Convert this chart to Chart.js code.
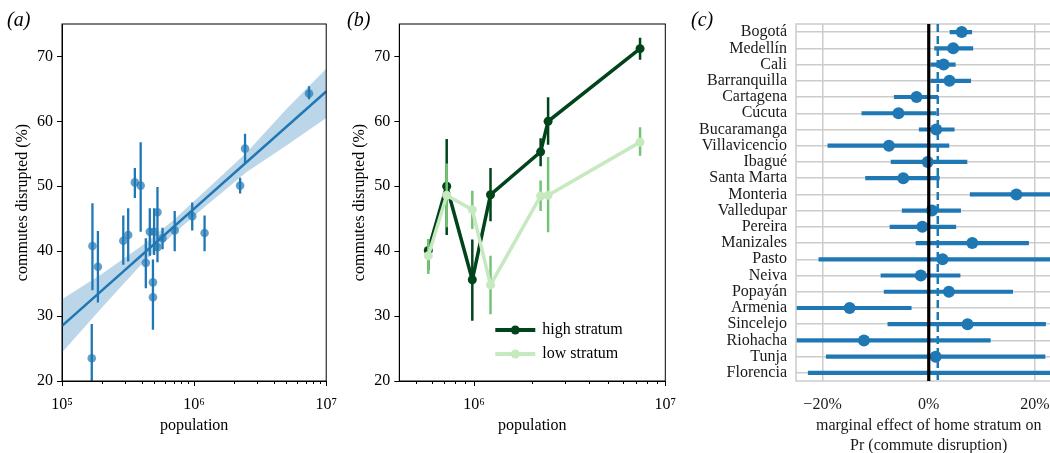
<!DOCTYPE html>
<html lang="en">
<head>
<meta charset="UTF-8">
<title>Commute disruption by city</title>
<script src="https://cdn.jsdelivr.net/npm/chart.js@4.4.1/dist/chart.umd.min.js"></script>
<style>
  html, body { margin: 0; padding: 0; background: #fff; overflow: hidden; }
  body { width: 1050px; height: 453px; position: relative; }
  .panel { position: absolute; top: 0; }
  .tag { position: absolute; top: 8px; font: italic 20px "Liberation Serif", serif; color: #000; }
</style>
</head>
<body>
<div class="panel" style="left:0"><canvas id="chartA" width="340" height="453"></canvas></div>
<div class="panel" style="left:340px"><canvas id="chartB" width="340" height="453"></canvas></div>
<div class="panel" style="left:680px"><canvas id="chartC" width="392" height="453"></canvas></div>
<div class="tag" style="left:7px">(a)</div>
<div class="tag" style="left:347px">(b)</div>
<div class="tag" style="left:691px">(c)</div>
<script>
// ---- panel (a): mean commute disruption per city vs population ----
const popA   = [1.68e5, 1.70e5, 1.87e5, 2.91e5, 3.17e5, 3.56e5, 3.94e5, 4.31e5, 4.62e5, 4.98e5, 4.88e5, 4.88e5, 5.28e5, 5.28e5, 5.77e5, 7.13e5, 9.68e5, 1.20e6, 2.23e6, 2.43e6, 7.41e6];
const meanA  = [23.5, 40.8, 37.6, 41.6, 42.5, 50.6, 50.1, 38.2, 43.0, 43.0, 35.2, 32.9, 46.0, 40.6, 42.0, 43.2, 45.4, 42.8, 50.1, 55.8, 64.3];
const lowA   = [18.0, 34.0, 32.1, 37.9, 38.4, 48.2, 43.0, 34.3, 39.3, 39.4, 31.7, 27.9, 38.3, 38.3, 40.3, 40.0, 43.2, 40.0, 48.9, 53.6, 63.4];
const highA  = [28.8, 47.4, 43.1, 45.5, 46.6, 52.8, 56.8, 42.0, 46.6, 46.6, 38.7, 36.5, 49.9, 43.5, 43.6, 46.2, 47.5, 45.5, 51.3, 58.1, 65.4];

// regression fit and its confidence band
const fitX   = [1e5, 1e7];
const fitY   = [28.5, 64.6];
const bandX  = [1e5, 2e5, 4e5, 7e5, 1.2e6, 2.5e6, 5e6, 1e7];
const bandLo = [24.4, 31.3, 38.0, 42.7, 46.8, 52.2, 56.3, 60.5];
const bandHi = [32.6, 36.5, 40.8, 44.8, 49.2, 55.2, 61.9, 68.1];

// ---- panel (b): seven largest cities by stratum ----
const popB     = [5.77e5, 7.2e5, 9.8e5, 1.22e6, 2.23e6, 2.44e6, 7.38e6];
const highMean = [40.1, 50.0, 35.6, 48.7, 55.3, 60.0, 71.2];
const highLo   = [37.1, 42.5, 29.3, 44.6, 53.1, 56.4, 69.5];
const highHi   = [41.8, 57.3, 41.8, 52.8, 57.4, 63.7, 72.9];
const lowMean  = [39.3, 48.6, 46.4, 34.8, 48.5, 48.6, 56.8];
const lowLo    = [36.5, 43.7, 43.4, 30.3, 46.2, 42.9, 54.7];
const lowHi    = [41.8, 53.5, 49.3, 39.3, 50.9, 54.5, 59.1];
const strata   = ['high stratum', 'low stratum'];

// ---- panel (c): marginal effect of home stratum (%) ----
const cities = ['Bogotá', 'Medellín', 'Cali', 'Barranquilla', 'Cartagena', 'Cúcuta', 'Bucaramanga',
  'Villavicencio', 'Ibagué', 'Santa Marta', 'Monteria', 'Valledupar', 'Pereira', 'Manizales', 'Pasto',
  'Neiva', 'Popayán', 'Armenia', 'Sincelejo', 'Riohacha', 'Tunja', 'Florencia'];
const effect   = [6.2, 4.6, 2.8, 3.9, -2.3, -5.7, 1.4, -7.5, -0.2, -4.8, 16.5, 0.6, -1.2, 8.2, 2.6, -1.5, 3.8, -14.9, 7.3, -12.2, 1.3, null];
const effectLo = [4.0, 1.1, 0.4, 0.4, -6.5, -12.6, -1.8, -19.0, -7.1, -11.9, 7.8, -5.0, -7.3, -2.4, -20.7, -9.0, -8.4, -30, -7.7, -30, -19.3, -22.7];
const effectHi = [8.1, 8.3, 5.0, 7.9, 1.7, 1.4, 4.8, 3.8, 7.2, 2.0, 30, 6.0, 5.1, 18.8, 30, 5.9, 15.8, -3.3, 22.0, 11.6, 21.9, 40];
const meanEffect = 1.7;
const zeroEffect = 0;

// tick values
const decades     = [1e5, 1e6, 1e7];
const pctTicks    = [20, 30, 40, 50, 60, 70];
const effectTicks = [-20, 0, 20];

const BLUE = '#1f77b4';
const HIGH_COLOR = '#00441b';
const LOW_COLOR = '#c7e9c0';
const LOW_ERR_COLOR = '#74c476';
const SERIF = '"Liberation Serif", "Times New Roman", serif';
const font16 = { family: SERIF, size: 16 };
const SUP = { '5': '\u2075', '6': '\u2076', '7': '\u2077' };

function decadeLabel(v) {
    const e = String(Math.round(Math.log10(v)));
    return '10' + SUP[e];
}

// vertical error bars as broken line segments
function errorSegments(xs, lo, hi) {
    const pts = [];
    xs.forEach((x, i) => {
        pts.push({ x: x, y: lo[i] }, { x: x, y: hi[i] }, { x: x, y: null });
    });
    return pts;
}

function toPoints(xs, ys) {
    return xs.map((x, i) => ({ x: x, y: ys[i] }));
}

// box around the plotting area
const frame = {
    id: 'frame',
    afterDatasetsDraw(chart, args, opts) {
        const { ctx, chartArea: a } = chart;
        ctx.save();
        ctx.strokeStyle = opts.color;
        ctx.lineWidth = opts.width;
        ctx.strokeRect(a.left, a.top, a.right - a.left, a.bottom - a.top);
        ctx.restore();
    }
};

// major and minor tick marks of the log axis (matplotlib style)
const logTicks = {
    id: 'logTicks',
    afterDraw(chart) {
        const x = chart.scales.x;
        const ctx = chart.ctx;
        const bottom = chart.chartArea.bottom;
        ctx.save();
        ctx.strokeStyle = '#000';
        ctx.lineWidth = 1;
        for (let e = Math.floor(Math.log10(x.min)); e <= Math.log10(x.max); e++) {
            for (let m = 1; m <= 9; m++) {
                const v = m * Math.pow(10, e);
                if (v < x.min * 0.999 || v > x.max * 1.001) continue;
                const px = Math.round(x.getPixelForValue(v)) + 0.5;
                ctx.beginPath();
                ctx.moveTo(px, bottom);
                ctx.lineTo(px, bottom + (m === 1 ? 5 : 3));
                ctx.stroke();
            }
        }
        ctx.restore();
    }
};

// legend inside panel (b)
const insetLegend = {
    id: 'insetLegend',
    afterDraw(chart) {
        const { ctx, chartArea: a } = chart;
        const colors = [HIGH_COLOR, LOW_COLOR];
        ctx.save();
        strata.forEach((label, i) => {
            const y = a.bottom - 51 + i * 24;
            const x0 = a.left + 96;
            ctx.strokeStyle = colors[i];
            ctx.lineWidth = 4;
            ctx.beginPath();
            ctx.moveTo(x0, y);
            ctx.lineTo(x0 + 40, y);
            ctx.stroke();
            ctx.fillStyle = colors[i];
            ctx.beginPath();
            ctx.arc(x0 + 20, y, 4.5, 0, Math.PI * 2);
            ctx.fill();
            ctx.fillStyle = '#000';
            ctx.font = '16px ' + SERIF;
            ctx.textBaseline = 'middle';
            ctx.fillText(label, x0 + 47, y);
        });
        ctx.restore();
    }
};

// zero line and mean-effect dashed line in panel (c)
const refLines = {
    id: 'refLines',
    afterDatasetsDraw(chart) {
        const { ctx, chartArea: a, scales: { x } } = chart;
        ctx.save();
        const pm = x.getPixelForValue(meanEffect);
        ctx.strokeStyle = BLUE;
        ctx.lineWidth = 2.5;
        ctx.setLineDash([8, 4]);
        ctx.beginPath();
        ctx.moveTo(pm, a.top);
        ctx.lineTo(pm, a.bottom);
        ctx.stroke();
        const p0 = x.getPixelForValue(zeroEffect);
        ctx.setLineDash([]);
        ctx.strokeStyle = '#000';
        ctx.lineWidth = 3.2;
        ctx.beginPath();
        ctx.moveTo(p0, a.top);
        ctx.lineTo(p0, a.bottom);
        ctx.stroke();
        ctx.restore();
    }
};

function logAxis(min, max) {
    return {
        type: 'logarithmic', min: min, max: max,
        afterBuildTicks: s => { s.ticks = decades.filter(v => v >= s.min && v <= s.max).map(v => ({ value: v })); },
        afterFit: s => { s.height = 72; },
        ticks: { callback: v => decadeLabel(v), font: font16, color: '#000', padding: 3, maxRotation: 0, autoSkip: false },
        // tick marks are drawn by the logTicks plugin; this only reserves the space
        grid: { drawOnChartArea: false, tickLength: 11, tickColor: 'rgba(0,0,0,0)' },
        border: { color: '#000' },
        title: { display: true, text: 'population', font: font16, color: '#000', padding: { top: 0, bottom: 18 } }
    };
}

function pctAxis(width, titlePad) {
    return {
        type: 'linear', min: 20, max: 75,
        afterBuildTicks: s => { s.ticks = pctTicks.map(v => ({ value: v })); },
        afterFit: s => { s.width = width; },
        ticks: { font: font16, color: '#000', padding: 4 },
        grid: { drawOnChartArea: false, tickLength: 5, tickColor: '#000' },
        border: { color: '#000' },
        title: { display: true, text: 'commutes disrupted (%)', font: font16, color: '#000', padding: { top: titlePad, bottom: 0 } }
    };
}

const common = {
    responsive: false,
    animation: false,
    events: [],
    plugins: { legend: { display: false }, tooltip: { enabled: false }, frame: { color: '#000', width: 1 } }
};

// panel (a)
new Chart(document.getElementById('chartA'), {
    type: 'line',
    data: {
        datasets: [
            { data: errorSegments(popA, lowA, highA), borderColor: BLUE, borderWidth: 2.3, pointRadius: 0, spanGaps: false, order: 0 },
            { data: toPoints(popA, meanA), showLine: false, pointRadius: 4.3, pointBorderWidth: 0, pointBackgroundColor: 'rgba(31,119,180,0.7)', order: 1 },
            { data: toPoints(fitX, fitY), borderColor: BLUE, borderWidth: 2.5, pointRadius: 0, order: 2 },
            { data: toPoints(bandX, bandHi), borderColor: 'transparent', borderWidth: 0, pointRadius: 0, fill: '+1', backgroundColor: 'rgba(31,119,180,0.3)', order: 3 },
            { data: toPoints(bandX, bandLo), borderColor: 'transparent', borderWidth: 0, pointRadius: 0, order: 4 }
        ]
    },
    options: Object.assign({}, common, {
        layout: { padding: { top: 24, right: 13, left: 0, bottom: 0 } },
        scales: { x: logAxis(1e5, 1e7), y: pctAxis(62, 13) }
    }),
    plugins: [frame, logTicks]
});

// panel (b)
new Chart(document.getElementById('chartB'), {
    type: 'line',
    data: {
        datasets: [
            { data: toPoints(popB, lowMean), borderColor: LOW_COLOR, borderWidth: 3.5, pointRadius: 4.5, pointBorderWidth: 0, pointBackgroundColor: LOW_COLOR, order: 0 },
            { data: errorSegments(popB, lowLo, lowHi), borderColor: LOW_ERR_COLOR, borderWidth: 2.5, pointRadius: 0, spanGaps: false, order: 1 },
            { data: toPoints(popB, highMean), borderColor: HIGH_COLOR, borderWidth: 3.5, pointRadius: 4.5, pointBorderWidth: 0, pointBackgroundColor: HIGH_COLOR, order: 2 },
            { data: errorSegments(popB, highLo, highHi), borderColor: HIGH_COLOR, borderWidth: 2.5, pointRadius: 0, spanGaps: false, order: 3 }
        ]
    },
    options: Object.assign({}, common, {
        layout: { padding: { top: 24, right: 14.7, left: 0, bottom: 0 } },
        scales: { x: logAxis(4.07e5, 1e7), y: pctAxis(59.3, 10) }
    }),
    plugins: [frame, logTicks, insetLegend]
});

// panel (c)
new Chart(document.getElementById('chartC'), {
    type: 'bar',
    data: {
        labels: cities,
        datasets: [
            { type: 'line', indexAxis: 'y', data: effect, showLine: false, pointRadius: 6, pointBorderWidth: 0, pointBackgroundColor: BLUE, order: 0 },
            { data: effectLo.map((lo, i) => [lo, effectHi[i]]), backgroundColor: BLUE, borderWidth: 0, barThickness: 3.5, borderSkipped: false, order: 1 }
        ]
    },
    options: Object.assign({}, common, {
        indexAxis: 'y',
        layout: { padding: { top: 24, right: 10.5, left: 0, bottom: 0 } },
        plugins: Object.assign({}, common.plugins, { frame: { color: '#cccccc', width: 1.5 } }),
        scales: {
            x: {
                type: 'linear', min: -25, max: 25,
                afterBuildTicks: s => { s.ticks = effectTicks.map(v => ({ value: v })); },
                afterFit: s => { s.height = 72; },
                grid: { color: '#cccccc', lineWidth: 1.5, drawTicks: false },
                border: { display: false },
                ticks: { font: font16, color: '#1a1a1a', padding: 14, callback: v => (v < 0 ? '\u2212' + Math.abs(v) : v) + '%' },
                title: { display: true, text: ['marginal effect of home stratum on', 'Pr (commute disruption)'],
                         font: { family: SERIF, size: 16, lineHeight: 1.25 }, color: '#1a1a1a', padding: { top: 0, bottom: -3 } }
            },
            y: {
                type: 'category', offset: true,
                afterFit: s => { s.width = 116; },
                grid: { color: '#cccccc', lineWidth: 1.5, offset: false, drawTicks: false },
                border: { display: false },
                ticks: { font: font16, color: '#1a1a1a', padding: 9, autoSkip: false }
            }
        }
    }),
    plugins: [frame, refLines]
});
</script>
</body>
</html>
